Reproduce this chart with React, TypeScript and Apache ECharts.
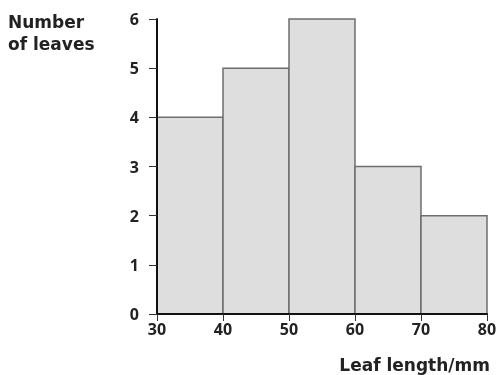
import React, { useEffect, useRef } from "react";
import * as echarts from "echarts";

const binStarts = [30, 40, 50, 60, 70];
const binEnds = [40, 50, 60, 70, 80];
const counts = [4, 5, 6, 3, 2];
const yTicks = [0, 1, 2, 3, 4, 5, 6];
const xTicks = [30, 40, 50, 60, 70, 80];
const yTitle = "Number\nof leaves";
const xTitle = "Leaf length/mm";

const FONT = "'Open Sans', 'DejaVu Sans', sans-serif";
const TFONT = "'DejaVu Sans', sans-serif";

export default function App() {
  const ref = useRef<HTMLDivElement>(null);
  useEffect(() => {
    if (!ref.current) return;
    const chart = echarts.init(ref.current, undefined, { renderer: "svg" });
    const data = binStarts.map((s, i) => [s, binEnds[i], counts[i]]);
    chart.setOption({
      animation: false,
      grid: { left: 157, right: 13, top: 19, bottom: 61 },
      xAxis: {
        type: "value",
        min: xTicks[0],
        max: xTicks[xTicks.length - 1],
        interval: 10,
        z: 5,
        splitLine: { show: false },
        axisLine: { show: true, lineStyle: { color: "#111", width: 2 } },
        axisTick: { show: true, length: 7, lineStyle: { color: "#333", width: 1 } },
        axisLabel: { margin: 7, color: "#222", fontSize: 16, fontWeight: "bold", fontFamily: FONT },
        name: xTitle,
        nameLocation: "end",
        nameGap: 3,
        nameTextStyle: {
          align: "right",
          verticalAlign: "top",
          padding: [42, 0, 0, 0],
          color: "#222",
          fontSize: 17,
          fontWeight: "bold",
          fontFamily: TFONT,
        },
      },
      yAxis: {
        type: "value",
        min: yTicks[0],
        max: yTicks[yTicks.length - 1],
        interval: 1,
        z: 5,
        splitLine: { show: false },
        axisLine: { show: true, lineStyle: { color: "#111", width: 2 } },
        axisTick: { show: true, length: 8, lineStyle: { color: "#333", width: 1 } },
        axisLabel: { margin: 18, color: "#222", fontSize: 16, fontWeight: "bold", fontFamily: FONT },
      },
      graphic: [
        {
          type: "text",
          left: 8,
          top: 11,
          style: {
            text: yTitle,
            fill: "#222",
            font: `bold 17px ${TFONT}`,
            lineHeight: 22,
            textAlign: "left",
          },
        },
      ],
      series: [
        {
          type: "custom",
          data,
          z: 1,
          renderItem: (params: any, api: any) => {
            const p0 = api.coord([api.value(0), api.value(2)]);
            const p1 = api.coord([api.value(1), 0]);
            return {
              type: "rect",
              shape: { x: p0[0], y: p0[1], width: p1[0] - p0[0], height: p1[1] - p0[1] },
              style: { fill: "#dedede", stroke: "#6e6e6e", lineWidth: 1.5 },
            };
          },
        },
      ],
    });
    return () => chart.dispose();
  }, []);
  return <div ref={ref} style={{ width: 500, height: 375, position: "fixed", left: 0, top: 0 }} />;
}
